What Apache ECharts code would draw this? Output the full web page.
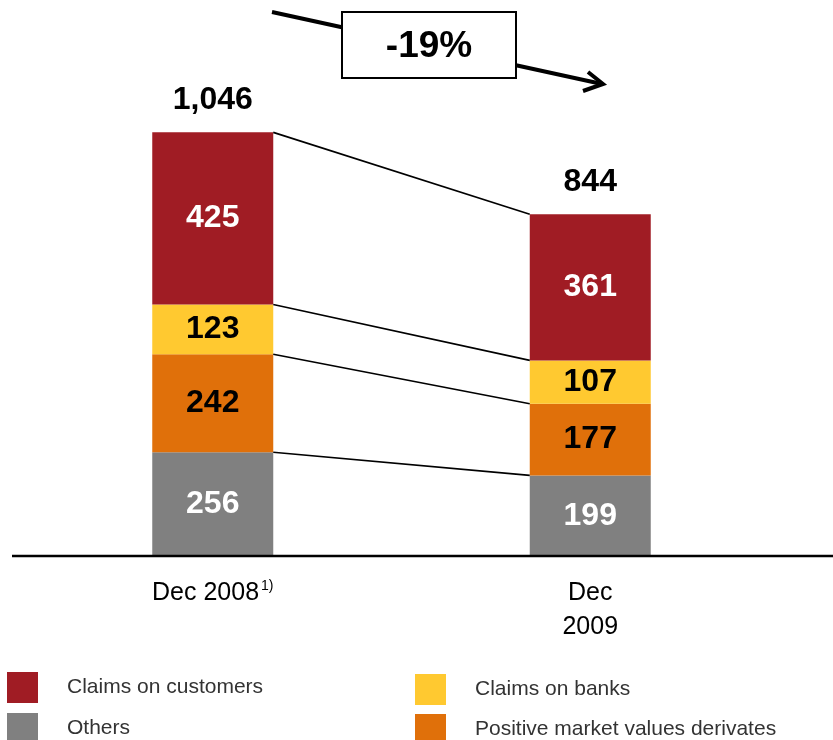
<!DOCTYPE html>
<html>
<head>
<meta charset="utf-8">
<title>Balance sheet assets</title>
<script src="https://cdn.jsdelivr.net/npm/echarts@6/dist/echarts.min.js"></script>
<style>
  html, body { margin: 0; padding: 0; background: #fff; }
  #chart { width: 833px; height: 740px; }
</style>
</head>
<body>
<div id="chart"></div>
<script>
// Categories and stacked segment values (EUR bn)
const categories = ['Dec 2008', 'Dec 2009'];
const others = [256, 199];
const derivatives = [242, 177];
const banks = [123, 107];
const customers = [425, 361];
const totals = [1046, 844];
const changeLabel = '-19%';

const FONT = '"Liberation Sans", Arial, Helvetica, sans-serif';
const BAR_WIDTH = 121;

const colors = {
  customers: '#A01C24',
  banks: '#FFC930',
  derivatives: '#E0700A',
  others: '#808080'
};

// Segment tops for the connector lines: one row per boundary, [index, left, right]
const stackOrder = [others, derivatives, banks, customers];
const connectors = [];
let cum = [0, 0];
stackOrder.forEach(function (s) {
  cum = [cum[0] + s[0], cum[1] + s[1]];
  connectors.push([0, cum[0], cum[1]]);
});

const chart = echarts.init(document.getElementById('chart'), null, { renderer: 'canvas' });

function segLabel(color) {
  return {
    show: true,
    position: 'inside',
    color: color,
    fontFamily: FONT,
    fontWeight: 'bold',
    fontSize: 32
  };
}

// One legend entry per block so the 2x2 key keeps its layout
function legendItem(name, left, top) {
  return {
    data: [name],
    left: left, top: top,
    itemWidth: 31, itemHeight: 31,
    icon: 'rect',
    selectedMode: false,
    textStyle: {
      color: '#333',
      fontFamily: FONT,
      fontSize: 21,
      padding: [0, 0, 0, 24]
    }
  };
}

chart.setOption({
  animation: false,
  backgroundColor: '#fff',
  textStyle: { fontFamily: FONT },
  grid: { left: 24, width: 755, top: 70, bottom: 184, containLabel: false },
  legend: [
    legendItem('Claims on customers', 2, 667),
    legendItem('Others', 2, 708),
    legendItem('Claims on banks', 410, 669),
    legendItem('Positive market values derivates', 410, 709)
  ],
  xAxis: {
    type: 'category',
    data: categories,
    axisLine: { show: false },
    axisTick: { show: false },
    axisLabel: {
      margin: 20,
      interval: 0,
      color: '#000',
      fontFamily: FONT,
      fontSize: 25,
      lineHeight: 34,
      formatter: function (v, i) {
        if (i === 0) return '{m|' + v + '}{sup|1)}';
        return '{m|' + v.replace(' ', '\n') + '}';
      },
      rich: {
        m: { fontSize: 25, lineHeight: 34, color: '#000', fontFamily: FONT },
        sup: { fontSize: 14, lineHeight: 34, color: '#000', fontFamily: FONT, padding: [0, 0, 13, 2] }
      }
    }
  },
  yAxis: {
    type: 'value',
    min: 0,
    max: 1200,
    show: false,
    splitLine: { show: false }
  },
  series: [
    {
      name: 'Others', type: 'bar', stack: 'a', barWidth: BAR_WIDTH,
      data: others, itemStyle: { color: colors.others },
      label: segLabel('#fff')
    },
    {
      name: 'Positive market values derivates', type: 'bar', stack: 'a', barWidth: BAR_WIDTH,
      data: derivatives, itemStyle: { color: colors.derivatives },
      label: segLabel('#000')
    },
    {
      name: 'Claims on banks', type: 'bar', stack: 'a', barWidth: BAR_WIDTH,
      data: banks, itemStyle: { color: colors.banks },
      label: segLabel('#000')
    },
    {
      name: 'Claims on customers', type: 'bar', stack: 'a', barWidth: BAR_WIDTH,
      data: customers, itemStyle: { color: colors.customers },
      label: segLabel('#fff')
    },
    {
      // zero-height cap carrying the total label above each stack
      name: 'total', type: 'bar', stack: 'a', barWidth: BAR_WIDTH,
      data: [0, 0],
      itemStyle: { color: 'transparent' },
      label: {
        show: true,
        position: 'top',
        distance: 16,
        color: '#000',
        fontFamily: FONT,
        fontWeight: 'bold',
        fontSize: 32,
        formatter: function (p) { return totals[p.dataIndex].toLocaleString('en-US'); }
      }
    },
    {
      // connector lines between matching segment boundaries
      name: 'connectors', type: 'custom',
      encode: { x: 0, y: [1, 2] },
      data: connectors,
      z: 5,
      renderItem: function (params, api) {
        const p1 = api.coord([0, api.value(1)]);
        const p2 = api.coord([1, api.value(2)]);
        const half = BAR_WIDTH / 2;
        return {
          type: 'line',
          shape: { x1: p1[0] + half, y1: p1[1], x2: p2[0] - half, y2: p2[1] },
          style: { stroke: '#000', lineWidth: 1.6 }
        };
      }
    }
  ]
});

// Baseline and the change indicator
const y0 = chart.convertToPixel({ gridIndex: 0 }, [0, 0])[1];
chart.setOption({
  graphic: [
    {
      type: 'line',
      shape: { x1: 12, y1: y0, x2: 833, y2: y0 },
      style: { stroke: '#000', lineWidth: 2.5 },
      z: 10
    },
    {
      type: 'line',
      shape: { x1: 272, y1: 12, x2: 602, y2: 84 },
      style: { stroke: '#000', lineWidth: 4 },
      z: 10
    },
    {
      type: 'polyline',
      shape: { points: [[588, 72], [603, 84], [583, 91]] },
      style: { stroke: '#000', lineWidth: 4, fill: null, lineJoin: 'miter' },
      z: 10
    },
    {
      type: 'rect',
      shape: { x: 342, y: 12, width: 174, height: 66 },
      style: { fill: '#fff', stroke: '#000', lineWidth: 2 },
      z: 11
    },
    {
      type: 'text',
      x: 429, y: 47,
      style: {
        text: changeLabel,
        fill: '#000',
        font: 'bold 37px ' + FONT,
        align: 'center',
        verticalAlign: 'middle'
      },
      z: 12
    }
  ]
});
</script>
</body>
</html>
